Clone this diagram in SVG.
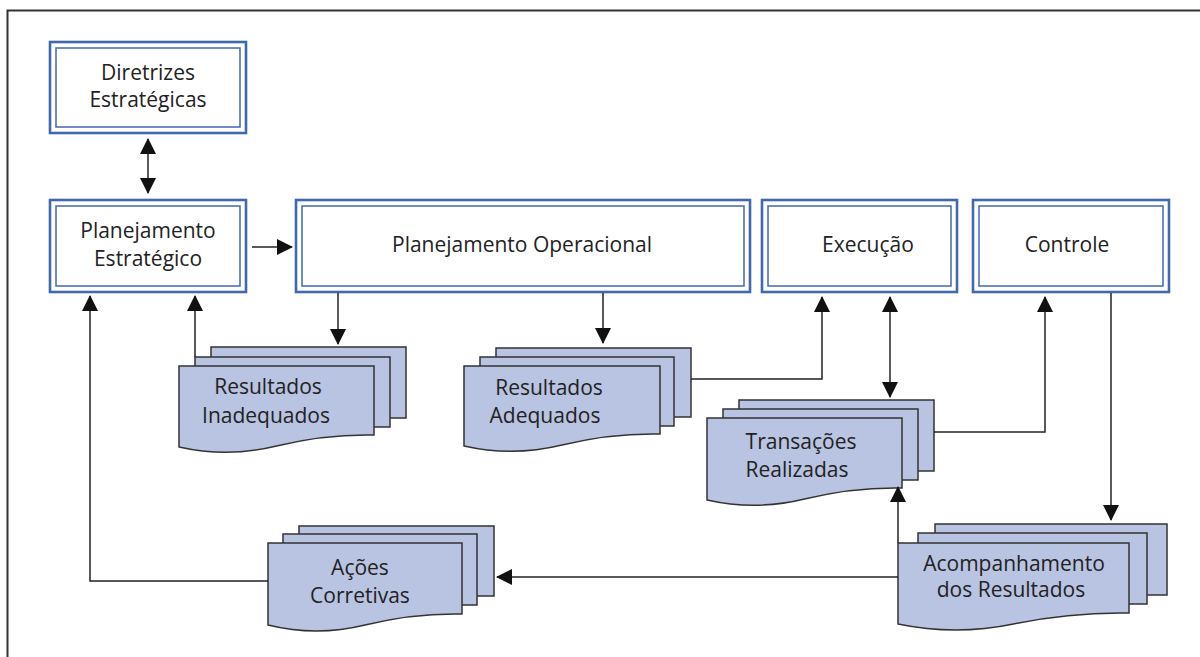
<svg xmlns="http://www.w3.org/2000/svg" width="1200" height="657" viewBox="0 0 1200 657">
<style>
.o{fill:#fff;stroke:#4169b0;stroke-width:2.6}
.i{fill:none;stroke:#4169b0;stroke-width:1.5}
.sh{fill:#b9c3e2;stroke:#333;stroke-width:1.5}
.t{font-family:"Open Sans","DejaVu Sans",sans-serif;font-size:21px;fill:#222;text-anchor:middle}
.c{fill:none;stroke:#222;stroke-width:1.5}
</style>
<defs>
<marker id="a" markerUnits="userSpaceOnUse" markerWidth="16" markerHeight="16" refX="15" refY="8" orient="auto-start-reverse">
<path d="M0,0 L16,8 L0,16 Z" fill="#111"/>
</marker>
</defs>
<rect x="7.5" y="10.5" width="1250" height="700" fill="none" stroke="#333" stroke-width="2"/>

<g id="diretrizes">
<rect class="o" x="50" y="42" width="196" height="91"/>
<rect class="i" x="56" y="48" width="184" height="79"/>
<text class="t" x="148" y="80">Diretrizes</text>
<text class="t" x="148" y="107">Estratégicas</text>
</g>
<g id="plan-estrategico">
<rect class="o" x="50" y="200" width="196" height="92"/>
<rect class="i" x="56" y="206" width="184" height="80"/>
<text class="t" x="148" y="238">Planejamento</text>
<text class="t" x="148" y="266">Estratégico</text>
</g>
<g id="plan-operacional">
<rect class="o" x="296" y="200" width="454" height="92"/>
<rect class="i" x="302" y="206" width="442" height="80"/>
<text class="t" x="522" y="252">Planejamento Operacional</text>
</g>
<g id="execucao">
<rect class="o" x="762" y="200" width="195" height="92"/>
<rect class="i" x="768" y="206" width="183" height="80"/>
<text class="t" x="868" y="252">Execução</text>
</g>
<g id="controle">
<rect class="o" x="973" y="200" width="196" height="92"/>
<rect class="i" x="979" y="206" width="184" height="80"/>
<text class="t" x="1067" y="252">Controle</text>
</g>

<g id="resultados-inadequados">
<rect class="sh" x="211" y="347" width="195" height="71"/>
<rect class="sh" x="195" y="357" width="195" height="70"/>
<path class="sh" d="M179,366 H374 V435 Q325.25,434 276.5,446 T179,447 Z"/>
<text class="t" x="268" y="394">Resultados</text>
<text class="t" x="266" y="423">Inadequados</text>
</g>
<g id="resultados-adequados">
<rect class="sh" x="496" y="348" width="195" height="69"/>
<rect class="sh" x="480" y="357" width="194" height="69"/>
<path class="sh" d="M464,366 H660 V434 Q611,433 562,445 T464,446 Z"/>
<text class="t" x="549" y="395">Resultados</text>
<text class="t" x="545" y="423">Adequados</text>
</g>
<g id="transacoes">
<rect class="sh" x="739" y="400" width="195" height="71"/>
<rect class="sh" x="723" y="409" width="195" height="71"/>
<path class="sh" d="M707,418 H902 V488 Q853.25,487 804.5,499 T707,500 Z"/>
<text class="t" x="801" y="449">Transações</text>
<text class="t" x="797" y="477">Realizadas</text>
</g>
<g id="acompanhamento">
<rect class="sh" x="935" y="524" width="232" height="71"/>
<rect class="sh" x="918" y="533" width="229" height="71"/>
<path class="sh" d="M898,543 H1129 V613 Q1071.25,612 1013.5,624 T898,624 Z"/>
<text class="t" x="1014" y="571">Acompanhamento</text>
<text class="t" x="1011" y="597">dos Resultados</text>
</g>
<g id="acoes-corretivas">
<rect class="sh" x="299" y="526" width="195" height="70"/>
<rect class="sh" x="283" y="534" width="194" height="71"/>
<path class="sh" d="M268,543 H462 V614 Q413.5,613 365,625 T268,625 Z"/>
<text class="t" x="360" y="575">Ações</text>
<text class="t" x="360" y="603">Corretivas</text>
</g>

<g id="connectors">
<path class="c" d="M148,139 V193" marker-start="url(#a)" marker-end="url(#a)"/>
<path class="c" d="M252,247 H292" marker-end="url(#a)"/>
<path class="c" d="M338,293 V344" marker-end="url(#a)"/>
<path class="c" d="M195,357 V296" marker-end="url(#a)"/>
<path class="c" d="M268,581 H90 V296" marker-end="url(#a)"/>
<path class="c" d="M603,293 V343" marker-end="url(#a)"/>
<path class="c" d="M691,379 H822 V297" marker-end="url(#a)"/>
<path class="c" d="M890,297 V397" marker-start="url(#a)" marker-end="url(#a)"/>
<path class="c" d="M934,432 H1045 V297" marker-end="url(#a)"/>
<path class="c" d="M1111,293 V520" marker-end="url(#a)"/>
<path class="c" d="M898,543 V487" marker-end="url(#a)"/>
<path class="c" d="M898,577 H497" marker-end="url(#a)"/>
</g>
</svg>
